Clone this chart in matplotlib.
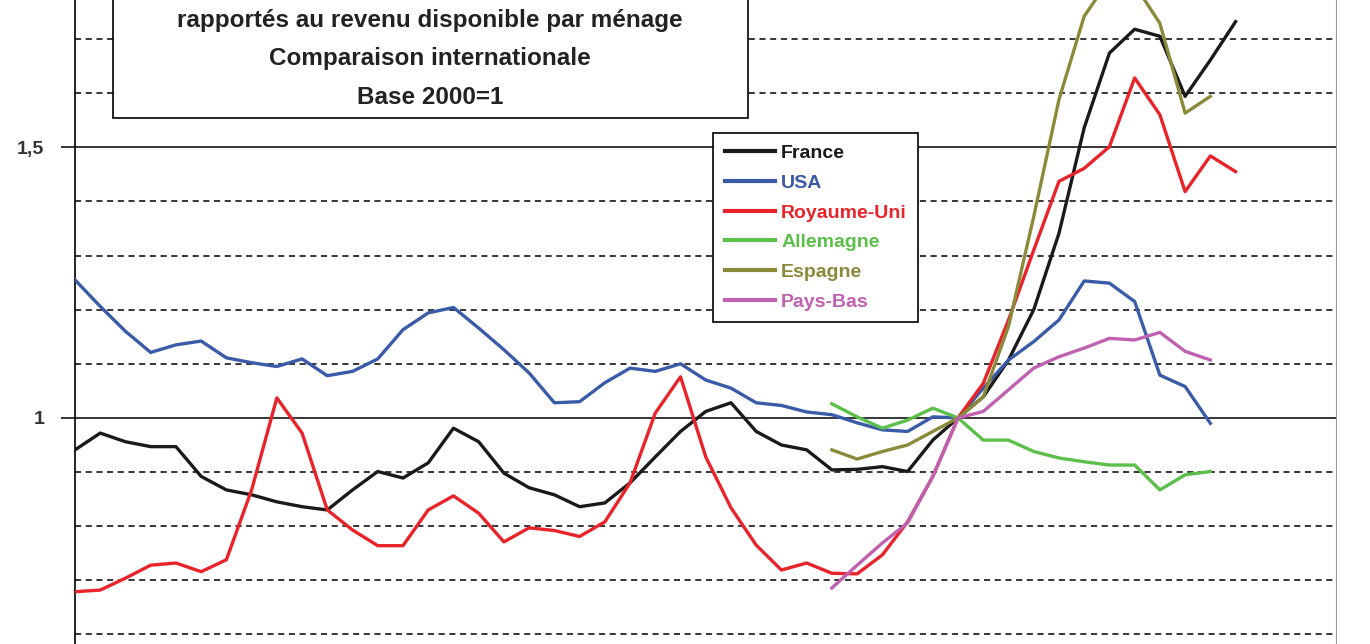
import matplotlib
matplotlib.use("Agg")
import matplotlib.pyplot as plt
from matplotlib.patches import Rectangle

years = list(range(1965, 2012))
france = [0.941,0.972,0.956,0.947,0.947,0.892,0.867,0.858,0.845,0.836,0.830,0.867,0.901,0.889,0.917,0.981,0.956,
          0.898,0.871,0.858,0.836,0.843,0.880,0.928,0.975,1.012,1.028,0.975,0.950,0.941,0.904,0.905,0.910,0.901,0.959,1.0,
          1.039,1.107,1.200,1.341,1.536,1.674,1.718,1.705,1.594,1.661,1.732]
usa = [1.255,1.206,1.160,1.121,1.135,1.142,1.111,1.102,1.095,1.109,1.078,1.086,1.109,1.163,1.194,1.204,1.166,
       1.126,1.083,1.028,1.030,1.065,1.092,1.086,1.100,1.070,1.055,1.028,1.023,1.011,1.006,0.991,0.978,0.975,1.002,1.0,
       1.055,1.107,1.141,1.181,1.253,1.249,1.215,1.079,1.058,0.990]
uk = [0.679,0.682,0.704,0.728,0.732,0.716,0.738,0.867,1.037,0.972,0.830,0.793,0.764,0.764,0.830,0.856,0.824,
      0.771,0.797,0.792,0.781,0.808,0.880,1.009,1.076,0.928,0.834,0.765,0.719,0.732,0.713,0.712,0.747,0.808,0.892,1.0,
      1.064,1.181,1.310,1.437,1.461,1.501,1.628,1.560,1.418,1.484,1.455]
sub_years = list(range(1995, 2011))
allemagne = [1.026,1.002,0.981,0.996,1.018,1.0,0.959,0.959,0.938,0.926,0.919,0.913,0.913,0.867,0.895,0.901]
espagne = [0.941,0.924,0.938,0.950,0.975,1.0,1.039,1.169,1.372,1.588,1.742,1.81,1.80,1.729,1.563,1.594]
paysbas = [0.686,0.728,0.769,0.806,0.892,1.0,1.012,1.052,1.092,1.113,1.129,1.147,1.144,1.158,1.123,1.107]

W, H = 1370, 644
fig = plt.figure(figsize=(W/100, H/100), dpi=100)
ax = fig.add_axes([75/W, 0, (1336-75)/W, 1])
ax.set_xlim(1965, 1965 + (1336-75)/25.23)
ax.set_ylim(0.5824, 1.772)

for v in [0.6,0.7,0.8,0.9,1.1,1.2,1.3,1.4,1.6,1.7]:
    ax.axhline(v, color="black", lw=1.1, ls=(0,(4,3)), zorder=1)
for v in [1.0, 1.5]:
    ax.axhline(v, color="black", lw=1.1, zorder=1)

lw = 2.4
ax.plot(years, france, color="#1a1a1a", lw=lw, label="France", zorder=3)
ax.plot(years[:len(usa)], usa, color="#3a5ba8", lw=lw, label="USA", zorder=3)
ax.plot(years, uk, color="#e8232a", lw=lw, label="Royaume-Uni", zorder=3)
ax.plot(sub_years, allemagne, color="#5cbf4a", lw=lw, label="Allemagne", zorder=3)
ax.plot(sub_years, espagne, color="#8a8a3a", lw=lw, label="Espagne", zorder=3)
ax.plot(sub_years, paysbas, color="#c060b0", lw=lw, label="Pays-Bas", zorder=3)

ax.spines["top"].set_visible(False)
ax.spines["bottom"].set_visible(False)
ax.spines["left"].set_linewidth(1.2)
ax.spines["right"].set_color("#999999")
ax.set_xticks([])
ax.set_yticks([1.0, 1.5])
ax.set_yticklabels(["1", "1,5"], fontsize=14, fontweight="bold", fontfamily="Liberation Sans", color="#333333")
ax.tick_params(axis="y", length=10, width=1.1, pad=12)

leg = ax.legend(loc="upper left", bbox_to_anchor=(713/W, 1-133/H), bbox_transform=fig.transFigure,
                frameon=True, fancybox=False, edgecolor="black", labelcolor="linecolor", framealpha=1,
                prop={"family": "Liberation Sans", "weight": "bold", "size": 14},
                handlelength=2.6, labelspacing=0.62, borderpad=0.6, handletextpad=0.3,
                borderaxespad=0)
leg.get_frame().set_linewidth(1.2)
for l in leg.get_lines():
    l.set_linewidth(3)
leg.set_zorder(5)

fig.patches.append(Rectangle((113/W, 1-118/H), (748-113)/W, 130/H, transform=fig.transFigure,
                             facecolor="white", edgecolor="black", lw=1.2, zorder=6))
for txt, yp in [("rapportés au revenu disponible par ménage", 20),
                ("Comparaison internationale", 58), ("Base 2000=1", 97)]:
    fig.text(430/W, 1-yp/H, txt, ha="center", va="center", fontsize=17.5, fontweight="bold",
             fontfamily="Liberation Sans", color="#222222", zorder=7)

fig.savefig("out.png", dpi=100)
